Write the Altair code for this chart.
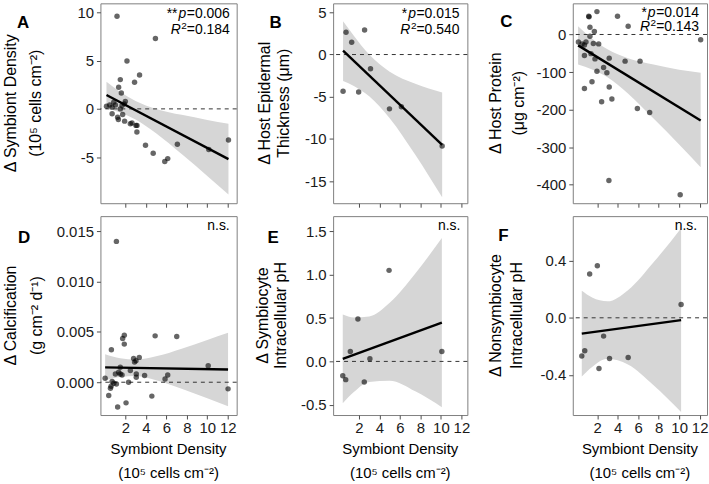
import altair as alt
import pandas as pd

# ---------------- data: symbiont density (x) vs. change in each host trait ----------------
# A: change in symbiont density
dens_a = [1.19, 4.94, 2.16, 3.39, 2.90, 1.51, 1.35, 1.61, 2.00, 0.16, 0.48, 0.87,
          1.03, 1.68, 1.90, 0.71, 1.51, 0.71, 1.25, 1.32, 1.74, 1.93, 2.49, 2.65,
          3.04, 3.14, 3.13, 3.97, 7.08, 4.72, 5.85, 6.14, 10.15, 12.07]
sym_a = [9.60, 7.28, 4.95, 3.50, 2.75, 3.03, 2.23, 1.65, 0.76, 0.28, 0.41, 0.69,
         0.41, 0.35, 0.52, 0.18, 0.00, -0.51, -0.86, -1.09, -0.58, -1.27, -1.54, -1.47,
         -1.71, -1.71, -2.40, -3.77, -3.67, -4.60, -5.45, -5.15, -4.20, -3.22]
band_a_x = [0.16, 1.5, 3.0, 5.0, 7.5, 10.0, 12.07]
band_a_lo = [0.06, -0.37, -1.09, -2.52, -4.68, -6.94, -8.86]
band_a_hi = [2.82, 1.75, 0.81, 0.00, -0.62, -1.14, -1.54]
fit_a_x = [0.16, 12.07]
fit_a_y = [1.44, -5.20]

# B: change in host epidermal thickness
dens_b = [0.74, 1.29, 2.55, 0.45, 1.97, 3.13, 4.98, 6.14, 10.12]
thick_b = [2.63, 1.46, 2.90, -4.35, -4.43, -1.68, -6.43, -6.19, -10.82]
band_b_x = [0.45, 1.5, 3.0, 5.0, 7.5, 10.12]
band_b_lo = [-3.13, -3.72, -4.95, -7.53, -11.86, -16.90]
band_b_hi = [3.93, 2.22, -0.01, -2.03, -3.46, -4.50]
fit_b_x = [0.45, 10.12]
fit_b_y = [0.45, -10.70]

# C: change in host protein
dens_c = [1.97, 1.17, 1.20, 3.98, 5.02, 1.29, 1.72, 1.29, 0.16, 0.52, 0.90, 0.75,
          1.62, 2.14, 0.75, 1.39, 1.78, 3.17, 4.72, 6.18, 2.62, 1.97, 2.94, 1.49,
          0.75, 3.17, 3.43, 2.43, 5.92, 7.12, 3.14, 10.10, 12.10]
prot_c = [61, 48.5, 47, 48.5, 22, 19.3, 8, -4.5, -20, -25, -20, -28,
          -24, -25, -56, -51, -65, -63, -71, -71, -88, -98, -102, -126,
          -144, -140, -172, -179, -197, -208, -389, -427, -14]
band_c_x = [0.13, 1.5, 3.0, 5.0, 7.5, 10.0, 12.1]
band_c_lo = [-80, -93, -114, -157, -224, -293, -354]
band_c_hi = [22, -11, -39.5, -63, -80, -94, -102]
fit_c_x = [0.13, 12.1]
fit_c_y = [-29, -229]

# D: change in calcification
dens_d = [1.13, 1.90, 1.74, 1.90, 4.91, 7.02, 0.64, 2.81, 3.04, 3.36, 2.90, 1.51,
          1.35, 1.03, 1.51, 1.68, 2.49, 3.07, 3.07, 3.88, 6.14, 5.88, 0.03, 0.71,
          0.87, 0.61, 0.55, 1.13, 2.32, 0.38, 4.59, 2.07, 1.25, 10.09, 12.03]
calc_d = [0.0140, 0.00468, 0.00435, 0.00379, 0.00461, 0.00455, 0.00323, 0.00237,
          0.00214, 0.00247, 0.00200, 0.00148, 0.00099, 0.00082, 0.00082, 0.00072,
          0.00116, 0.00082, 0.00050, 0.00066, 0.00072, 0.00033, 0.00040, 0.00007,
          -0.00010, -0.00040, -0.00060, -0.00017, 0.00000, -0.00132, -0.00138,
          -0.00205, -0.00247, 0.00165, -0.00066]
band_d_x = [0.03, 1.5, 3.0, 5.0, 7.5, 10.0, 12.03]
band_d_lo = [0.00018, 0.00052, 0.00061, 0.00020, -0.00066, -0.00160, -0.00239]
band_d_hi = [0.00278, 0.00238, 0.00225, 0.00258, 0.00334, 0.00420, 0.00491]
fit_d_x = [0.03, 12.03]
fit_d_y = [0.00148, 0.00126]

# E: change in symbiocyte intracellular pH
dens_e = [0.42, 0.71, 1.16, 1.90, 2.52, 3.07, 4.94, 10.09]
ph_e = [-0.165, -0.21, 0.115, 0.49, -0.237, 0.03, 1.05, 0.115]
band_e_x = [0.42, 1.5, 3.0, 5.0, 7.5, 10.09]
band_e_lo = [-0.482, -0.353, -0.237, -0.223, -0.345, -0.528]
band_e_hi = [0.542, 0.507, 0.519, 0.677, 1.015, 1.422]
fit_e_x = [0.42, 10.09]
fit_e_y = [0.03, 0.447]

# F: change in nonsymbiocyte intracellular pH
dens_f = [0.49, 0.78, 1.26, 2.01, 2.17, 2.62, 3.20, 5.02, 10.19]
ph_f = [-0.267, -0.23, 0.306, 0.364, -0.355, -0.128, -0.285, -0.278, 0.093]
band_f_x = [0.49, 1.5, 3.0, 5.0, 7.5, 10.19]
band_f_lo = [-0.411, -0.344, -0.287, -0.327, -0.472, -0.659]
band_f_hi = [0.189, 0.142, 0.115, 0.193, 0.388, 0.627]
fit_f_x = [0.49, 10.19]
fit_f_y = [-0.111, -0.016]

# axis ticks
x_ticks = [2, 4, 6, 8, 10, 12]
ticks_a = [-5, 0, 5, 10]
ticks_b = [-15, -10, -5, 0, 5]
ticks_c = [-400, -300, -200, -100, 0]
ticks_d = [0.0, 0.005, 0.010, 0.015]
ticks_e = [-0.5, 0.0, 0.5, 1.0, 1.5]
ticks_f = [-0.4, 0.0, 0.4]

# axis titles (two lines each)
x_title = ["Symbiont Density", "(10\u2075 cells cm\u207b\u00b2)"]
title_a = ["\u0394 Symbiont Density", "(10\u2075 cells cm\u207b\u00b2)"]
title_b = ["\u0394 Host Epidermal", "Thickness (\u03bcm)"]
title_c = ["\u0394 Host Protein", "(\u03bcg cm\u207b\u00b2)"]
title_d = ["\u0394 Calcification", "(g cm\u207b\u00b2 d\u207b\u00b9)"]
title_e = ["\u0394 Symbiocyte", "Intracellular pH"]
title_f = ["\u0394 Nonsymbiocyte", "Intracellular pH"]

# regression statistics
stars = {"A": "**", "B": "*", "C": "*"}
p_vals = {"A": "0.006", "B": "0.015", "C": "0.014"}
r2_vals = {"A": "0.184", "B": "0.540", "C": "0.143"}

FONT = "Liberation Sans"
AX_FS = 15      # tick labels and x titles
YT_FS = 16      # rotated y titles
ONE = pd.DataFrame({"k": [0]})

# Arial-compatible advance widths (em) for the annotation glyphs
ADV = {".": 0.278, "=": 0.584, "*": 0.389, "p": 0.556, "R": 0.722, "n": 0.556,
       "s": 0.5}


def text_width(s, size):
    return sum(ADV.get(c, 0.556) for c in s) * size


def txt(s, x, y, size=14, style="normal", weight="normal", align="right",
        baseline="alphabetic", angle=0):
    return alt.Chart(ONE).mark_text(
        text=s, align=align, baseline=baseline, fontSize=size, angle=angle,
        fontStyle=style, fontWeight=weight, color="black", font=FONT,
    ).encode(x=alt.value(x), y=alt.value(y))


def stat_block(key, xr, y1, y2):
    out = []
    rest = "=" + p_vals[key]
    out.append(txt(rest, xr, y1))
    w = text_width(rest, 14)
    out.append(txt("p", xr - w - 0.5, y1, style="italic"))
    w += text_width("p", 14) + 0.5
    out.append(txt(stars[key], xr - w - 1, y1))
    rest2 = "=" + r2_vals[key]
    out.append(txt(rest2, xr, y2))
    w2 = text_width(rest2, 14)
    out.append(txt("2", xr - w2, y2 - 5, size=10))
    w2 += text_width("2", 10)
    out.append(txt("R", xr - w2 - 0.5, y2, style="italic"))
    return out


def hyphen_label(fmt):
    return (f"datum.value < 0 ? '-' + format(-datum.value, '{fmt}') "
            f": format(datum.value, '{fmt}')")


def y_axis(values, fmt):
    return alt.Axis(
        values=values, labelExpr=hyphen_label(fmt), grid=False, domain=False,
        tickSize=4, tickColor="#4d4d4d", tickWidth=1,
        labelFontSize=AX_FS, labelColor="#1a1a1a", labelPadding=3, labelFont=FONT,
        labelOverlap=False, labelFlush=False, labelBound=False, title=None,
    )


def x_axis(bottom):
    return alt.Axis(
        values=x_ticks, format="d", labels=bottom, grid=False, domain=False,
        tickSize=4, tickColor="#4d4d4d", tickWidth=1,
        labelFontSize=AX_FS, labelColor="#1a1a1a", labelPadding=2, labelFont=FONT,
        labelOverlap=False, labelFlush=False, labelBound=False, title=None,
    )


def panel(px, py, bx, blo, bhi, fx, fy, xdom, ydom, yticks, yfmt, bottom, w, h,
          letter, letter_pos, ytitle, ytitle_x, notes):
    xs = alt.Scale(domain=xdom, nice=False, zero=False)
    ys = alt.Scale(domain=ydom, nice=False, zero=False)
    xax = x_axis(bottom)
    yax = y_axis(yticks, yfmt)
    band = pd.DataFrame({"x": bx, "lo": blo, "hi": bhi})
    pts = pd.DataFrame({"x": px, "y": py})
    fit = pd.DataFrame({"x": fx, "y": fy})

    ribbon = alt.Chart(band).mark_area(color="#d6d6d6", interpolate="monotone").encode(
        x=alt.X("x:Q", scale=xs, axis=xax),
        y=alt.Y("lo:Q", scale=ys, axis=yax),
        y2="hi:Q",
    )
    zero = alt.Chart(ONE).mark_rule(color="#333333", strokeWidth=1,
                                    strokeDash=[4, 4]).encode(
        y=alt.Y(datum=0, scale=ys, axis=yax)
    )
    dots = alt.Chart(pts).mark_circle(size=30, color="black", opacity=0.6).encode(
        x=alt.X("x:Q", scale=xs, axis=xax),
        y=alt.Y("y:Q", scale=ys, axis=yax),
    )
    line = alt.Chart(fit).mark_line(color="black", strokeWidth=2.4).encode(
        x=alt.X("x:Q", scale=xs, axis=xax),
        y=alt.Y("y:Q", scale=ys, axis=yax),
    )
    extra = [txt(letter, letter_pos[0], letter_pos[1], size=17, weight="bold",
                 align="left")]
    # rotated y-axis title, two lines
    for line_txt, lx in zip(ytitle, ytitle_x):
        extra.append(txt(line_txt, lx, h / 2, size=YT_FS, align="center",
                         baseline="middle", angle=270))
    # x-axis title under the bottom row
    if bottom:
        extra.append(txt(x_title[0], w / 2, h + 34, size=AX_FS, align="center",
                         baseline="middle"))
        extra.append(txt(x_title[1], w / 2, h + 58, size=AX_FS, align="center",
                         baseline="middle"))
    extra += notes
    return alt.layer(ribbon, zero, dots, line, *extra).properties(width=w, height=h)


TOP_H, BOT_H = 201, 200

pa = panel(dens_a, sym_a, band_a_x, band_a_lo, band_a_hi, fit_a_x, fit_a_y,
           [-0.43, 12.87], [-9.77, 10.93], ticks_a, "d",
           False, 137, TOP_H, "A", (-84, 25), title_a, (-89.5, -64.5),
           stat_block("A", 130, 15, 30.5))
pd_ = panel(dens_d, calc_d, band_d_x, band_d_lo, band_d_hi, fit_d_x, fit_d_y,
            [-0.43, 12.87], [-0.00326, 0.01651], ticks_d, ".3f",
            True, 137, BOT_H, "D", (-83, 27), title_d, (-90, -64),
            [txt("n.s.", 130, 14)])

pb = panel(dens_b, thick_b, band_b_x, band_b_lo, band_b_hi, fit_b_x, fit_b_y,
           [-0.52, 12.58], [-17.6, 6.06], ticks_b, "d",
           False, 135, TOP_H, "B", (-64, 25), title_b, (-68, -49),
           stat_block("B", 127, 15, 30.5))
pe = panel(dens_e, ph_e, band_e_x, band_e_lo, band_e_hi, fit_e_x, fit_e_y,
           [-0.52, 12.58], [-0.618, 1.675], ticks_e, ".1f",
           True, 135, BOT_H, "E", (-66, 27), title_e, (-70, -52),
           [txt("n.s.", 128, 14)])

pc = panel(dens_c, prot_c, band_c_x, band_c_lo, band_c_hi, fit_c_x, fit_c_y,
           [-0.39, 12.72], [-449.5, 83], ticks_c, "d",
           False, 135, TOP_H, "C", (-73, 24), title_c, (-77.5, -54.5),
           stat_block("C", 127, 14, 28))
pf = panel(dens_f, ph_f, band_f_x, band_f_lo, band_f_hi, fit_f_x, fit_f_y,
           [-0.39, 12.72], [-0.68, 0.711], ticks_f, ".1f",
           True, 135, BOT_H, "F", (-75, 25), title_f, (-77.5, -56.5),
           [txt("n.s.", 125, 14)])

col1 = alt.vconcat(pa, pd_, spacing=7)
col2 = alt.vconcat(pb, pe, spacing=7)
col3 = alt.vconcat(pc, pf, spacing=7)

chart = (
    alt.hconcat(col1, col2, col3, spacing=17)
    .properties(padding={"left": 2, "top": 1, "right": 0, "bottom": 0},
                background="white")
    .configure(font=FONT)
    .configure_view(stroke="#7f7f7f", strokeWidth=1)
)

chart.save("out.html", embed_options={"renderer": "svg", "actions": False})
